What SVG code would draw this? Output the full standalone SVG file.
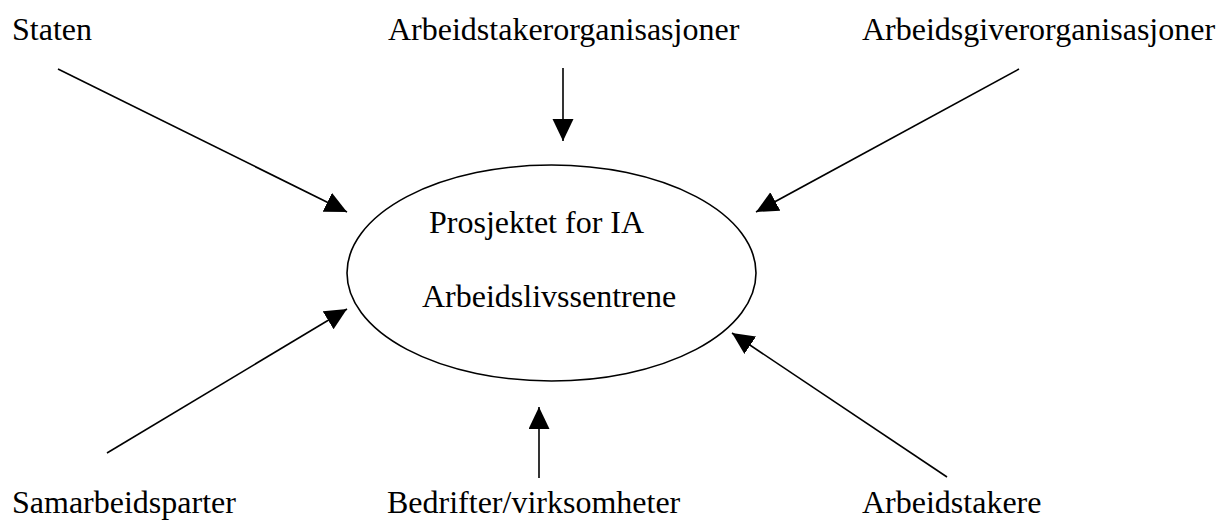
<svg xmlns="http://www.w3.org/2000/svg" width="1219" height="521" viewBox="0 0 1219 521">
<style>
text{font-family:"Liberation Serif","Times New Roman",serif;font-size:32px;fill:#000}
.c line{stroke:#000;stroke-width:1.6;marker-end:url(#ah)}
</style>
<defs>
<marker id="ah" markerUnits="userSpaceOnUse" markerWidth="24" markerHeight="22" refX="22" refY="10.5" orient="auto">
<path d="M0,0 L22,10.5 L0,21 Z" fill="#000"/>
</marker>
</defs>
<rect width="1219" height="521" fill="#fff"/>
<g id="center">
<ellipse cx="551.5" cy="273" rx="204.5" ry="108" fill="none" stroke="#000" stroke-width="1.6"/>
<text x="429" y="233">Prosjektet for IA</text>
<text x="422" y="307">Arbeidslivssentrene</text>
</g>
<g id="staten"><text x="12" y="40">Staten</text></g>
<g id="arbeidstakerorg"><text x="388" y="40">Arbeidstakerorganisasjoner</text></g>
<g id="arbeidsgiverorg"><text x="862" y="40">Arbeidsgiverorganisasjoner</text></g>
<g id="samarbeidsparter"><text x="12" y="513">Samarbeidsparter</text></g>
<g id="bedrifter"><text x="387" y="513">Bedrifter/virksomheter</text></g>
<g id="arbeidstakere"><text x="862" y="513">Arbeidstakere</text></g>
<g class="c" id="connectors">
<line x1="58" y1="69" x2="347" y2="212"/>
<line x1="563" y1="68" x2="563" y2="141"/>
<line x1="1019" y1="69" x2="756" y2="212"/>
<line x1="107" y1="453" x2="347" y2="309"/>
<line x1="539" y1="478" x2="539" y2="407"/>
<line x1="947" y1="477" x2="732" y2="333"/>
</g>
</svg>
